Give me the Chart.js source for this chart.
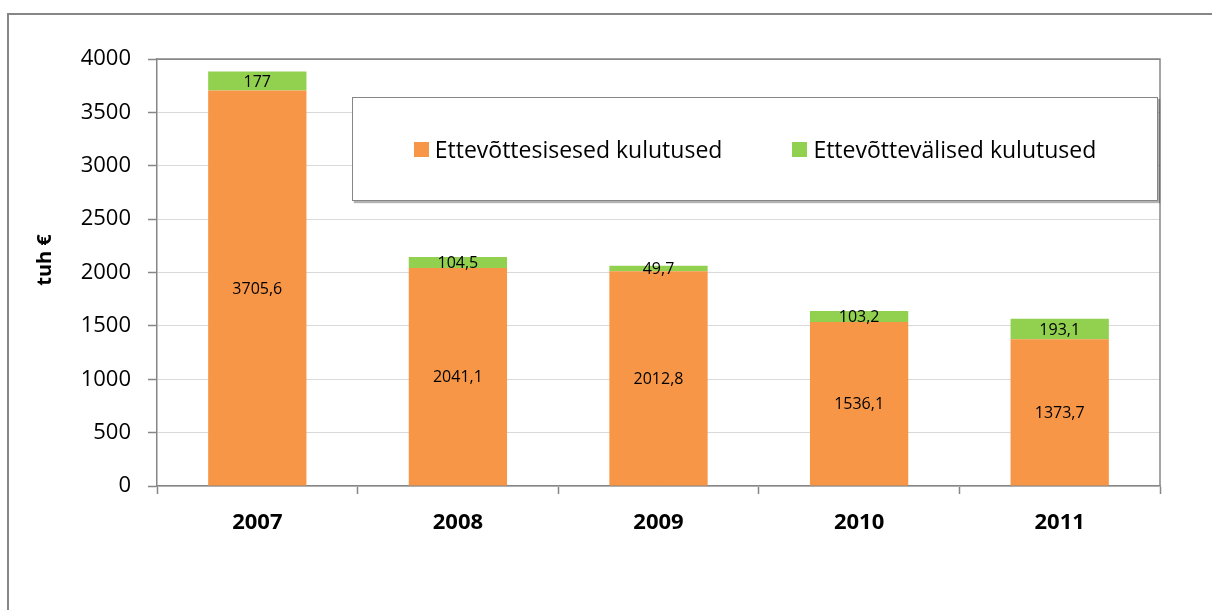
<!DOCTYPE html>
<html>
<head>
<meta charset="utf-8">
<script src="https://cdn.jsdelivr.net/npm/chart.js@4.4.1/dist/chart.umd.min.js"></script>
<style>
  body { margin: 0; background: #fff; }
  #wrap { position: relative; width: 1212px; height: 610px; overflow: hidden; }
  #frame { position: absolute; left: 7px; top: 13px; width: 1230px; height: 700px; border: 2px solid #868686; pointer-events: none; }
  #legend {
    position: absolute; left: 352px; top: 97px; width: 806px; height: 104px;
    box-sizing: border-box; border: 1px solid #868686; background: #fff;
    box-shadow: 2px 2px 1px rgba(0,0,0,0.3);
    display: flex; align-items: center; justify-content: center;
    font-family: 'Open Sans', sans-serif; font-size: 23px; color: #000;
  }
  .item { display: flex; align-items: center; margin: 0 35px; }
  .sw { width: 15px; height: 15px; margin-right: 6px; }
</style>
</head>
<body>
<div id="wrap">
  <canvas id="chart" width="1212" height="610"></canvas>
  <div id="frame"></div>
  <div id="legend"></div>
</div>
<script>
// andmed
const years = ['2007', '2008', '2009', '2010', '2011'];
const sisesed = [3705.6, 2041.1, 2012.8, 1536.1, 1373.7];
const valised = [177, 104.5, 49.7, 103.2, 193.1];
const seriesNames = ['Ettevõttesisesed kulutused', 'Ettevõttevälised kulutused'];
const colors = ['#F79646', '#92D050'];
const axisTitle = 'tuh €';

const axisGray = '#868686';

// väärtuse sildid ribade sees
const labelPlugin = {
  id: 'barLabels',
  afterDatasetsDraw(chart) {
    const ctx = chart.ctx;
    ctx.save();
    ctx.font = '16px "Open Sans"';
    ctx.fillStyle = '#000';
    ctx.textAlign = 'center';
    ctx.textBaseline = 'middle';
    chart.data.datasets.forEach((ds, i) => {
      chart.getDatasetMeta(i).data.forEach((bar, j) => {
        const txt = String(ds.data[j]).replace('.', ',');
        ctx.fillText(txt, bar.x, (bar.y + bar.base) / 2 + 1);
      });
    });
    ctx.restore();
  }
};

// joonise ala ülemine ja parem serv + telje pealkiri
const framePlugin = {
  id: 'plotFrame',
  beforeDatasetsDraw(chart) {
    const { ctx, chartArea: a } = chart;
    ctx.save();
    ctx.strokeStyle = axisGray;
    ctx.lineWidth = 1.5;
    ctx.beginPath();
    ctx.moveTo(a.left, a.top);
    ctx.lineTo(a.right, a.top);
    ctx.lineTo(a.right, a.bottom);
    ctx.stroke();
    ctx.restore();
  },
  afterDraw(chart) {
    const ctx = chart.ctx;
    ctx.save();
    ctx.translate(45, 260);
    ctx.rotate(-Math.PI / 2);
    ctx.font = 'bold 20px "Open Sans"';
    ctx.fillStyle = '#000';
    ctx.textAlign = 'center';
    ctx.textBaseline = 'middle';
    ctx.fillText(axisTitle, 0, 0);
    ctx.restore();
  }
};

new Chart(document.getElementById('chart'), {
  type: 'bar',
  data: {
    labels: years,
    datasets: [
      { label: seriesNames[0], data: sisesed, backgroundColor: colors[0] },
      { label: seriesNames[1], data: valised, backgroundColor: colors[1] }
    ]
  },
  options: {
    responsive: false,
    animation: false,
    layout: { padding: { top: 59, right: 52, left: 0, bottom: 0 } },
    datasets: { bar: { categoryPercentage: 1, barPercentage: 0.49 } },
    plugins: { legend: { display: false }, tooltip: { enabled: false } },
    scales: {
      x: {
        stacked: true,
        afterFit: s => { s.height = 124; },
        grid: { drawOnChartArea: false, tickLength: 8, tickColor: axisGray, tickWidth: 1.5 },
        border: { color: axisGray, width: 1.5 },
        ticks: { color: '#000', font: { family: 'Open Sans', size: 22, weight: 'bold' }, padding: 16 }
      },
      y: {
        stacked: true,
        min: 0, max: 4000,
        afterFit: s => { s.width = 157; },
        grid: {
          color: c => (c.tick && c.tick.value === 4000 ? axisGray : '#D9D9D9'),
          tickLength: 9, tickColor: axisGray, tickWidth: 1.5
        },
        border: { color: axisGray, width: 1.5 },
        ticks: {
          stepSize: 500, color: '#000', padding: 17,
          font: { family: 'Open Sans', size: 22 },
          callback: v => String(v)
        }
      }
    }
  },
  plugins: [labelPlugin, framePlugin]
});

// legend
document.getElementById('legend').innerHTML = seriesNames.map((n, i) =>
  `<div class="item"><span class="sw" style="background:${colors[i]}"></span><span>${n}</span></div>`
).join('');
</script>
</body>
</html>
